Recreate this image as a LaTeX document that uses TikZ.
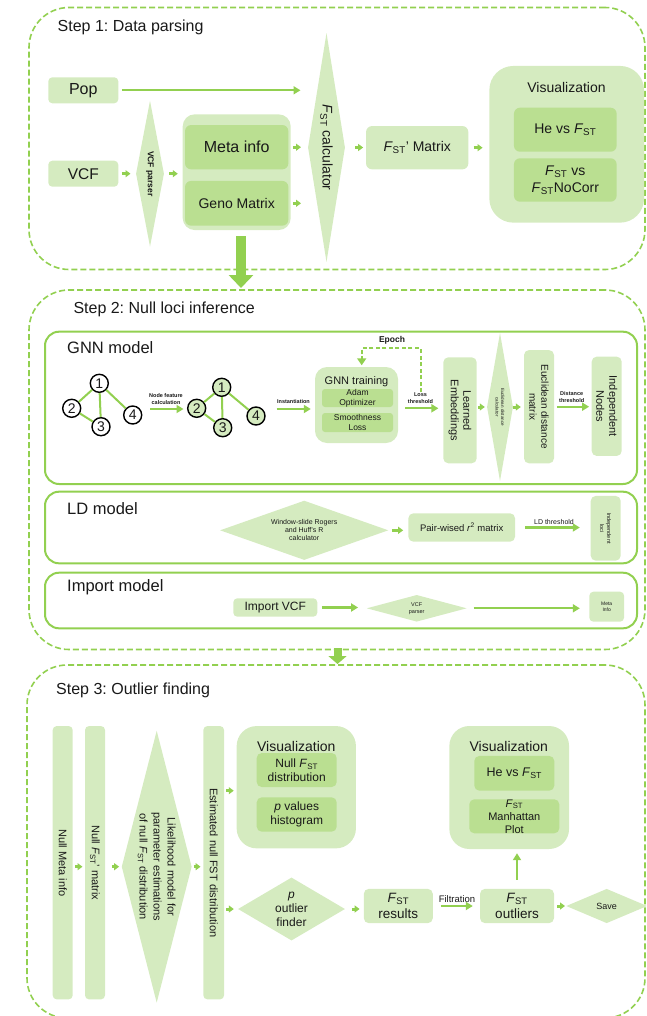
\documentclass[tikz,border=0pt]{standalone}
\usepackage{fontspec}
\setmainfont{Liberation Sans}
\usetikzlibrary{arrows.meta,shapes.geometric,calc}
\definecolor{lg}{RGB}{213,235,192}
\definecolor{dg}{RGB}{186,223,145}
\definecolor{ag}{RGB}{146,208,80}
\definecolor{tx}{RGB}{25,25,25}
\newcommand\fz[2]{\fontsize{#1}{#2}\selectfont}
\newcommand\fst{\textit{F}\textsubscript{ST}}
\frenchspacing
\begin{document}
\begin{tikzpicture}[x=1pt,y=-1pt,
  every node/.style={text=tx},
  lbox/.style={fill=lg, rounded corners=4pt, inner sep=0pt, align=center},
  dbox/.style={fill=dg, rounded corners=4pt, inner sep=0pt, align=center},
  diam/.style={shape=diamond, fill=lg, inner sep=0pt, align=center},
  garrow/.style={draw=ag, line width=2.2pt, -{Triangle[length=7pt,width=8pt]}},
  sarrow/.style={draw=ag, line width=3pt, -{Triangle[length=5pt,width=7pt]}},
  dashbox/.style={draw=ag, line width=1.6pt, dash pattern=on 6pt off 3pt, rounded corners=40pt, inner sep=0pt},
  modelbox/.style={draw=ag, line width=2pt, rounded corners=14pt, inner sep=0pt},
  ttl/.style={anchor=west, inner sep=0pt},
  gnode/.style={circle, draw=black, line width=1.4pt, minimum size=18pt, inner sep=0pt, font=\fz{14}{16}},
  gedge/.style={draw=ag, line width=2pt},
  lbl/.style={inner sep=0pt, align=center}
]
\useasboundingbox (0,0) rectangle (646,1016);
\clip (0,0) rectangle (646,1016);

% ================= Step 1 =================
\node[dashbox, minimum width=616pt, minimum height=262pt] (s1) at (337,138.5) {};
\node[ttl, font=\fz{16}{19}] (t1) at (57.5,27) {Step 1: Data parsing};
\node[lbox, minimum width=70pt, minimum height=26pt, font=\fz{16}{19}] (pop) at (83.3,90.3) {Pop};
\node[lbox, minimum width=70pt, minimum height=26pt, font=\fz{15.5}{18}] (vcf) at (83.3,173.7) {VCF};
\node[diam, rotate=-90, aspect=5.2, minimum width=146pt, minimum height=28pt, font=\bfseries\fz{8.5}{10}] (vcfp) at (150,173.7) {VCF parser};
\node[lbox, rounded corners=12pt, minimum width=108pt, minimum height=115.7pt] (grp) at (236.7,172.2) {};
\node[dbox, rounded corners=6pt, minimum width=103.3pt, minimum height=44.3pt, font=\fz{16}{19}] (meta) at (236.7,147.2) {Meta info};
\node[dbox, rounded corners=6pt, minimum width=103.3pt, minimum height=44.7pt, font=\fz{14}{17}] (geno) at (236.7,203.3) {Geno Matrix};
\node[diam, rotate=-90, aspect=6.19, minimum width=229pt, minimum height=37pt, font=\fz{14}{17}] (fcalc) at (326.5,147.5) {\fst\ calculator};
\node[lbox, rounded corners=6pt, minimum width=102.3pt, minimum height=43.3pt, font=\fz{14}{17}] (fmat) at (417.2,147.7) {\fst' Matrix};
\node[lbox, rounded corners=24pt, minimum width=154.7pt, minimum height=156.7pt] (vis) at (566.7,144.3) {};
\node[lbl, font=\fz{14}{17}] (vist) at (566.5,87.3) {Visualization};
\node[dbox, rounded corners=6pt, minimum width=102.7pt, minimum height=44pt, font=\fz{14}{17}] (hevs) at (565.3,129.7) {He vs \fst};
\node[dbox, rounded corners=6pt, minimum width=102.7pt, minimum height=43.4pt, font=\fz{14}{17}] (fvs) at (565.3,180) {\fst\ vs\\\fst NoCorr};

\draw[garrow, shorten <=3.4pt, shorten >=26pt] (pop.east) -- (pop.east -| fcalc.center);
\draw[sarrow, shorten <=3.4pt, shorten >=5.3pt] (vcf.east) -- (vcf.east -| vcfp.south);
\draw[sarrow, shorten <=5pt, shorten >=4.7pt] (vcfp.north) -- (vcfp.north -| grp.west);
\draw[sarrow, shorten <=4.4pt, shorten >=6.8pt] (meta.east) -- (meta.east -| fcalc.south);
\draw[sarrow, shorten <=4.4pt, shorten >=6.8pt] (geno.east) -- (geno.east -| fcalc.south);
\draw[sarrow, shorten <=9.8pt, shorten >=2.7pt] (fcalc.north) -- (fcalc.north -| fmat.west);
\draw[sarrow, shorten <=5pt, shorten >=6.6pt] (fmat.east) -- (fmat.east -| vis.west);

\coordinate (ba1) at (241,236);
\coordinate (ba2) at (241,288);
\draw[draw=ag, line width=10pt, -{Triangle[length=13pt,width=24pt]}] (ba1) -- (ba2);

% ================= Step 2 =================
\node[dashbox, minimum width=616pt, minimum height=359.5pt] (s2) at (337,469.75) {};
\node[ttl, font=\fz{16}{19}] (t2) at (73.3,309.5) {Step 2: Null loci inference};

% GNN model
\node[modelbox, minimum width=592pt, minimum height=152.3pt] (gnnbox) at (341,407.85) {};
\node[ttl, font=\fz{16.5}{19}] (tg) at (67,348) {GNN model};

\node[gnode, fill=white] (a1) at (99.3,383.3) {1};
\node[gnode, fill=white] (a2) at (71.7,408.3) {2};
\node[gnode, fill=white] (a3) at (101,426.7) {3};
\node[gnode, fill=white] (a4) at (132.7,415) {4};
\draw[gedge] (a1) -- (a2);
\draw[gedge] (a1) -- (a3);
\draw[gedge] (a2) -- (a3);
\draw[gedge] (a1) -- (a4);

\node[gnode, fill=lg] (c1) at (221.7,387.3) {1};
\node[gnode, fill=lg] (c2) at (196.7,408.3) {2};
\node[gnode, fill=lg] (c3) at (222.7,427.7) {3};
\node[gnode, fill=lg] (c4) at (256,416) {4};
\draw[gedge] (c1) -- (c2);
\draw[gedge] (c1) -- (c3);
\draw[gedge] (c2) -- (c3);
\draw[gedge] (c1) -- (c4);

\coordinate (nf1) at (150,409);
\coordinate (nf2) at (183.5,409);
\draw[garrow] (nf1) -- (nf2);
\node[lbl, font=\bfseries\fz{5.5}{7}] (nfl) at (166,399.5) {Node feature\\calculation};

\node[lbox, rounded corners=12pt, minimum width=83pt, minimum height=76pt] (gnn) at (356.5,405) {};
\node[lbl, font=\fz{11}{13}] (gnnt) at (356.5,381.7) {GNN training};
\node[dbox, rounded corners=3pt, minimum width=71pt, minimum height=18pt, font=\fz{8.5}{10}] (adam) at (357.5,398) {Adam\\Optimizer};
\node[dbox, rounded corners=3pt, minimum width=71pt, minimum height=19pt, font=\fz{8.5}{10}] (smooth) at (357.5,422.5) {Smoothness\\Loss};

\coordinate (in1) at (276.7,409);
\draw[garrow, shorten >=4pt] (in1) -- (in1 -| gnn.west);
\node[lbl, font=\bfseries\fz{5.5}{7}] (inl) at (293.5,401.5) {Instantiation};

\coordinate (ep1) at (420.7,392);
\coordinate (epk) at (361.7,348.3);
\draw[draw=ag, line width=2pt, dash pattern=on 4pt off 2.5pt, shorten >=1.5pt, -{Triangle[length=7pt,width=9pt]}] (ep1) |- (epk) -- (epk |- gnn.north);
\node[lbl, font=\bfseries\fz{8.5}{10}] (epl) at (392,340.7) {Epoch};

\node[lbox, rotate=-90, rounded corners=5pt, minimum width=106pt, minimum height=33.4pt, font=\fz{11}{12.5}] (lemb) at (460,410.3) {Learned\\Embeddings};
\coordinate (ls1) at (405,408.3);
\draw[garrow, shorten >=4.7pt] (ls1) -- (ls1 -| lemb.south);
\node[lbl, font=\bfseries\fz{5.5}{7}] (lsl) at (420.5,398) {Loss\\threshold};

\node[diam, rotate=-90, aspect=5.7, minimum width=148pt, minimum height=26pt, font=\fz{4.5}{5.5}] (euc) at (500,407) {Euclidean distance\\calculator};
\draw[sarrow, shorten <=1.3pt, shorten >=2pt] (lemb.north |- euc.center) -- (euc.south);
\node[lbox, rotate=-90, rounded corners=5pt, minimum width=113.3pt, minimum height=30pt, font=\fz{10}{12}] (edm) at (539,406.7) {Euclidean distance\\matrix};
\draw[sarrow, shorten <=0pt, shorten >=3pt] (euc.north) -- (euc.north -| edm.south);
\node[lbox, rotate=-90, rounded corners=5pt, minimum width=99.3pt, minimum height=30pt, font=\fz{11}{13}] (indn) at (606.7,406.3) {Independent\\Nodes};
\draw[garrow, shorten <=2.7pt, shorten >=2.4pt] (edm.north) -- (edm.north -| indn.south);
\node[lbl, font=\bfseries\fz{5.5}{7}] (dtl) at (571.7,397) {Distance\\threshold};

% LD model
\node[modelbox, minimum width=592pt, minimum height=71.6pt] (ldbox) at (341,527.5) {};
\node[ttl, font=\fz{16.5}{19}] (tl) at (67,509) {LD model};
\node[diam, aspect=2.84, minimum width=168.3pt, minimum height=59.3pt, font=\fz{7}{8}] (win) at (304.2,530.3) {Window-slide Rogers\\and Huff's R\\calculator};
\node[lbox, rounded corners=5pt, minimum width=106.7pt, minimum height=28.4pt, font=\fz{9.5}{11}] (pair) at (461.7,527.5) {Pair-wised \textit{r}\textsuperscript{2} matrix};
\draw[sarrow, shorten <=3.4pt, shorten >=5pt] (win.east) -- (win.east -| pair.west);
\node[lbox, rotate=-90, rounded corners=5pt, minimum width=64.7pt, minimum height=30pt, font=\fz{5.5}{7}] (indl) at (605.7,528.3) {Independent\\loci};
\draw[garrow, shorten <=10pt, shorten >=10.7pt] (pair.east) -- (pair.east -| indl.south);
\node[lbl, font=\fz{7}{8}] (ldl) at (554,521.5) {LD threshold};

% Import model
\node[modelbox, minimum width=592pt, minimum height=55.6pt] (impbox) at (341,600.5) {};
\node[ttl, font=\fz{16.5}{19}] (ti) at (67,587) {Import model};
\node[lbox, minimum width=84pt, minimum height=18.4pt, font=\fz{12}{14}] (impv) at (275.3,607.5) {Import VCF};
\node[diam, aspect=3.75, minimum width=100pt, minimum height=26.7pt, font=\fz{5.5}{7}] (vcfp2) at (416.7,608.3) {VCF\\parser};
\node[lbox, rounded corners=4pt, minimum width=34.7pt, minimum height=30pt, font=\fz{5}{6.5}] (meta2) at (606.7,606.7) {Meta\\Info};
\draw[garrow, shorten <=4.4pt, shorten >=8.4pt] (impv.east) -- (impv.east -| vcfp2.west);
\draw[garrow, shorten <=6.6pt, shorten >=9.3pt] (vcfp2.east) -- (vcfp2.east -| meta2.west);

\coordinate (sa1) at (337.5,648);
\coordinate (sa2) at (337.5,664);
\draw[draw=ag, line width=8pt, -{Triangle[length=8pt,width=18pt]}] (sa1) -- (sa2);

% ================= Step 3 =================
\node[dashbox, minimum width=618pt, minimum height=353pt] (s3) at (336,841.5) {};
\node[ttl, font=\fz{16}{19}] (t3) at (56,690) {Step 3: Outlier finding};

\node[lbox, rotate=-90, minimum width=273.3pt, minimum height=20pt, font=\fz{11}{13}] (nmi) at (62.7,862.7) {Null Meta info};
\node[lbox, rotate=-90, minimum width=273.3pt, minimum height=20pt, font=\fz{11}{13}] (nfm) at (95,862.7) {Null \fst' matrix};
\node[diam, rotate=-90, aspect=3.89, minimum width=272pt, minimum height=70pt, font=\fz{11}{14}] (lik) at (156.7,866.7) {Likelihood model for\\parameter estimations\\of null \fst\ distribution};
\node[lbox, rotate=-90, minimum width=273.3pt, minimum height=20.7pt, font=\fz{11}{13}] (est) at (213.7,862.7) {Estimated null FST distribution};
\draw[sarrow, shorten <=2.3pt, shorten >=2.3pt] (nmi.north |- lik.center) -- (nfm.south |- lik.center);
\draw[sarrow, shorten <=6.7pt, shorten >=2.4pt] (nfm.north |- lik.center) -- (lik.south);
\draw[sarrow, shorten <=1.6pt, shorten >=2.6pt] (lik.north) -- (lik.north -| est.south);

\node[lbox, rounded corners=20pt, minimum width=119.3pt, minimum height=122.3pt] (vis1) at (296.3,787.2) {};
\node[lbl, font=\fz{14}{17}] (vis1t) at (296.3,746) {Visualization};
\node[dbox, rounded corners=5pt, minimum width=80pt, minimum height=34pt, font=\fz{12}{14}] (nullf) at (296.7,770) {Null \fst\\distribution};
\node[dbox, rounded corners=5pt, minimum width=80pt, minimum height=34.3pt, font=\fz{12}{14}] (pval) at (296.7,814.5) {\textit{p} values\\histogram};
\coordinate (ev) at (224,790.7);
\draw[sarrow, shorten <=2pt, shorten >=2.7pt] (ev) -- (ev -| vis1.west);

\node[diam, aspect=1.7, minimum width=107pt, minimum height=63pt, font=\fz{12}{14}] (pof) at (291.5,909) {\textit{p}\\outlier\\finder};
\draw[sarrow, shorten <=2pt, shorten >=4pt] (est.north |- pof.west) -- (pof.west);

\node[lbox, rounded corners=5pt, minimum width=69pt, minimum height=34.3pt, font=\fz{13.5}{15.5}] (fres) at (398.3,906) {\fst\\results};
\draw[sarrow, shorten <=6.7pt, shorten >=4pt] (pof.east) -- (pof.east -| fres.west);
\node[lbox, rounded corners=5pt, minimum width=74pt, minimum height=34.3pt, font=\fz{13.5}{15.5}] (fout) at (517,906) {\fst\\outliers};
\draw[garrow, shorten <=8pt, shorten >=7pt] (fres.east) -- (fres.east -| fout.west);
\node[lbl, font=\fz{9.5}{11}] (fil) at (457,899) {Filtration};

\node[lbox, rounded corners=20pt, minimum width=119.7pt, minimum height=123pt] (vis2) at (509.2,787.5) {};
\node[lbl, font=\fz{14}{17}] (vis2t) at (508.8,746) {Visualization};
\node[dbox, rounded corners=5pt, minimum width=80pt, minimum height=34.7pt, font=\fz{12.5}{15}] (hevs2) at (514.3,773.3) {He vs \fst};
\node[dbox, rounded corners=5pt, minimum width=90pt, minimum height=34pt, font=\fz{11}{13}] (man) at (514.3,816.3) {\fst\\Manhattan\\Plot};
\draw[garrow, shorten <=9pt, shorten >=4pt] (fout.north) -- (fout.north |- vis2.south);

\node[diam, aspect=2.36, minimum width=81pt, minimum height=34.3pt, font=\fz{9}{11}] (save) at (606.7,906) {Save};
\draw[sarrow, shorten <=3pt, shorten >=1pt] (fout.east) -- (save.west);
\end{tikzpicture}
\end{document}
